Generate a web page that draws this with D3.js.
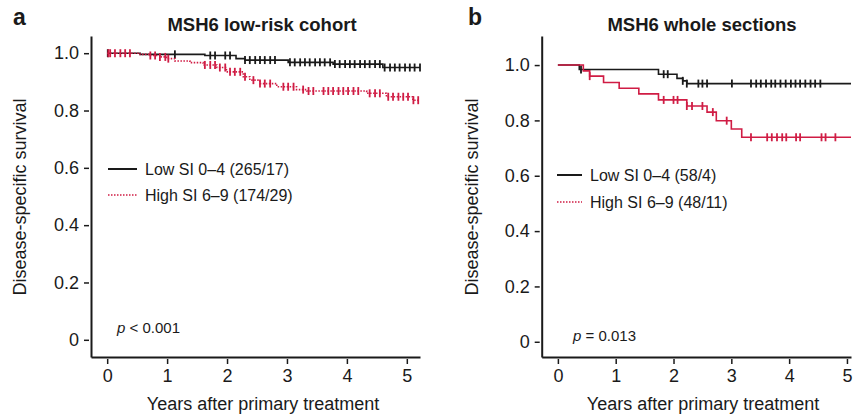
<!DOCTYPE html>
<html>
<head>
<meta charset="utf-8">
<script src="https://cdn.jsdelivr.net/npm/d3@7"></script>
<style>
  body { margin: 0; background: #fff; }
  text { font-family: "Liberation Sans", Arial, sans-serif; fill: #1a1a1a; }
</style>
</head>
<body>
<script>
// ---- data ----
// panel a: MSH6 low-risk cohort
let aLowTimes = [0, 0.55, 1.63, 2.15, 2.30, 3.02, 3.77, 4.60];
let aLowSurv  = [1, 0.996, 0.992, 0.981, 0.976, 0.968, 0.962, 0.950];
let aLowEnd = 5.22;
let aLowCens = [0.01, 1.13, 1.72, 1.80, 1.97, 2.05, 2.30, 2.38, 2.47, 2.55, 2.63, 2.72, 2.80,
  3.05, 3.13, 3.22, 3.30, 3.38, 3.47, 3.55, 3.63, 3.72, 3.80, 3.88, 3.97, 4.05, 4.13, 4.22,
  4.30, 4.38, 4.47, 4.55, 4.63, 4.72, 4.80, 4.88, 4.97, 5.05, 5.13, 5.22];

let aHighTimes = [0, 0.55, 0.72, 0.88, 0.99, 1.13, 1.38, 1.60, 1.83, 1.99, 2.27, 2.38, 2.55,
  2.83, 3.16, 3.33, 4.33, 4.66, 5.10];
let aHighSurv = [1, 0.996, 0.992, 0.987, 0.981, 0.973, 0.967, 0.959, 0.950, 0.935, 0.918,
  0.906, 0.894, 0.883, 0.873, 0.868, 0.860, 0.848, 0.836];
let aHighEnd = 5.2;
let aHighCens = [0.02, 0.05, 0.13, 0.22, 0.30, 0.38, 0.72, 0.80, 0.88, 0.97, 1.02, 1.63, 1.72,
  1.80, 1.88, 1.97, 2.05, 2.13, 2.22, 2.30, 2.44, 2.55, 2.63, 2.72, 2.94, 3.02, 3.11, 3.27,
  3.36, 3.44, 3.61, 3.69, 3.77, 3.86, 3.94, 4.02, 4.11, 4.19, 4.38, 4.47, 4.55, 4.69, 4.77,
  4.86, 4.94, 5.02, 5.11, 5.19];

// panel b: MSH6 whole sections
let bLowTimes = [0, 0.37, 1.74, 2.06, 2.16, 2.23];
let bLowSurv  = [1, 0.984, 0.967, 0.952, 0.943, 0.933];
let bLowEnd = 5.07;
let bLowCens = [0.40, 1.83, 1.90, 2.16, 2.23, 2.43, 2.50, 2.58, 3.01, 3.34, 3.43, 3.51, 3.60,
  3.69, 3.76, 3.85, 3.94, 4.03, 4.11, 4.19, 4.28, 4.37, 4.45, 4.54];

let bHighTimes = [0, 0.44, 0.55, 0.79, 1.06, 1.40, 1.74, 2.23, 2.58, 2.74, 3.00, 3.18];
let bHighSurv  = [1, 0.979, 0.960, 0.937, 0.916, 0.896, 0.874, 0.852, 0.830, 0.799, 0.769, 0.739];
let bHighEnd = 5.07;
let bHighCens = [0.55, 1.83, 2.00, 2.07, 2.23, 2.32, 2.50, 2.68, 2.92, 3.34, 3.62, 3.70, 3.79,
  3.88, 3.95, 4.12, 4.19, 4.56, 4.63, 4.80];

let xTicks = [0, 1, 2, 3, 4, 5];
let xTickLabels = ["0", "1", "2", "3", "4", "5"];
let yTicks = [0, 0.2, 0.4, 0.6, 0.8, 1.0];
let yTickLabels = ["0", "0.2", "0.4", "0.6", "0.8", "1.0"];

let legendLabelsA = ["Low SI 0\u20134 (265/17)", "High SI 6\u20139 (174/29)"];
let legendLabelsB = ["Low SI 0\u20134 (58/4)", "High SI 6\u20139 (48/11)"];

let black = "#1a1a1a";
let red = "#d01c44";

let svg = d3.select("body").append("svg")
  .attr("width", 853)
  .attr("height", 417);

// survival value of a step curve at time t
function survAt(times, surv, t) {
  let s = surv[0];
  for (let i = 0; i < times.length; i++) {
    if (times[i] <= t) s = surv[i];
  }
  return s;
}

function drawPanel(p) {
  let x = d3.scaleLinear().domain(p.xDomain).range(p.xRange);
  let y = d3.scaleLinear().domain(p.yDomain).range([357, 36]);
  let g = svg.append("g");

  // axes
  let yAxis = d3.axisLeft(y).tickValues(yTicks)
    .tickFormat((d, i) => yTickLabels[i]).tickSizeOuter(0);
  let yg = g.append("g").attr("transform", `translate(${p.xRange[0]},0)`).call(yAxis);
  yg.selectAll(".tick line").attr("x1", -2).attr("x2", -7).attr("stroke-width", 1.5);
  yg.selectAll(".tick text").attr("x", -12).style("font-size", "18px");

  let xAxis = d3.axisBottom(x).tickValues(xTicks)
    .tickFormat((d, i) => xTickLabels[i]).tickSizeOuter(0);
  let xg = g.append("g").attr("transform", "translate(0,357)").call(xAxis);
  xg.selectAll(".tick line").attr("y1", 2).attr("y2", 7).attr("stroke-width", 1.5);
  xg.selectAll(".tick text").attr("y", 25).attr("dy", 0).style("font-size", "18px");

  g.selectAll(".domain").attr("stroke", black).attr("stroke-width", 2);
  g.selectAll(".tick line").attr("stroke", black);
  g.selectAll(".tick text").attr("fill", black).style("font-family", '"Liberation Sans", Arial, sans-serif');

  // curves
  let line = d3.line().x(d => x(d[0])).y(d => y(d[1])).curve(d3.curveStepAfter);
  p.series.forEach(s => {
    let pts = s.times.map((t, i) => [t, s.surv[i]]);
    pts.push([s.end, s.surv[s.surv.length - 1]]);
    g.append("path")
      .attr("d", line(pts))
      .attr("fill", "none")
      .attr("stroke", s.color)
      .attr("stroke-width", 1.6)
      .attr("stroke-dasharray", s.dash || null);
    g.selectAll(null)
      .data(s.cens)
      .enter()
      .append("line")
      .attr("x1", d => x(d)).attr("x2", d => x(d))
      .attr("y1", d => y(survAt(s.times, s.surv, d)) - 4)
      .attr("y2", d => y(survAt(s.times, s.surv, d)) + 4)
      .attr("stroke", s.color)
      .attr("stroke-width", 1.8);
  });

  // legend
  p.legend.forEach((lab, i) => {
    let ly = p.legendY + i * p.legendStep;
    g.append("line")
      .attr("x1", p.legendX).attr("x2", p.legendX + p.legendLen)
      .attr("y1", ly).attr("y2", ly)
      .attr("stroke", i === 0 ? black : red)
      .attr("stroke-width", i === 0 ? 2 : 1.6)
      .attr("stroke-dasharray", i === 0 ? null : "1.5,1.5");
    g.append("text")
      .attr("x", p.legendX + p.legendLen + 8).attr("y", ly + 5.7)
      .style("font-size", "16px")
      .text(lab);
  });

  // titles and labels
  g.append("text").attr("x", p.letterX).attr("y", 25)
    .style("font-size", "23px").style("font-weight", "bold").text(p.letter);
  g.append("text").attr("x", p.titleX).attr("y", 31).attr("text-anchor", "middle")
    .style("font-size", "18.5px").style("font-weight", "bold").text(p.title);
  g.append("text").attr("x", p.titleX + 1).attr("y", 410).attr("text-anchor", "middle")
    .style("font-size", "18px").text("Years after primary treatment");
  g.append("text")
    .attr("transform", `translate(${p.yLabelX},197) rotate(-90)`)
    .attr("text-anchor", "middle")
    .style("font-size", "18px")
    .text("Disease-specific survival");

  let pt = g.append("text").attr("x", p.pX).attr("y", p.pY).style("font-size", "15px");
  pt.append("tspan").style("font-style", "italic").text("p");
  pt.append("tspan").text(p.pText);
}

drawPanel({
  letter: "a", letterX: 13,
  title: "MSH6 low-risk cohort", titleX: 262,
  xDomain: [-0.27, 5.22], xRange: [91, 420],
  yDomain: [-0.06, 1.06],
  yLabelX: 26,
  series: [
    { times: aLowTimes, surv: aLowSurv, end: aLowEnd, cens: aLowCens, color: black },
    { times: aHighTimes, surv: aHighSurv, end: aHighEnd, cens: aHighCens, color: red, dash: "1.5,1.5" }
  ],
  legend: legendLabelsA, legendX: 108, legendLen: 29, legendY: 169, legendStep: 26,
  pX: 117, pY: 333, pText: " < 0.001"
});

drawPanel({
  letter: "b", letterX: 468,
  title: "MSH6 whole sections", titleX: 702,
  xDomain: [-0.28, 5.07], xRange: [541.7, 851],
  yDomain: [-0.055, 1.105],
  yLabelX: 478,
  series: [
    { times: bLowTimes, surv: bLowSurv, end: bLowEnd, cens: bLowCens, color: black },
    { times: bHighTimes, surv: bHighSurv, end: bHighEnd, cens: bHighCens, color: red }
  ],
  legend: legendLabelsB, legendX: 557, legendLen: 25, legendY: 175, legendStep: 27,
  pX: 573, pY: 341, pText: " = 0.013"
});
</script>
</body>
</html>
